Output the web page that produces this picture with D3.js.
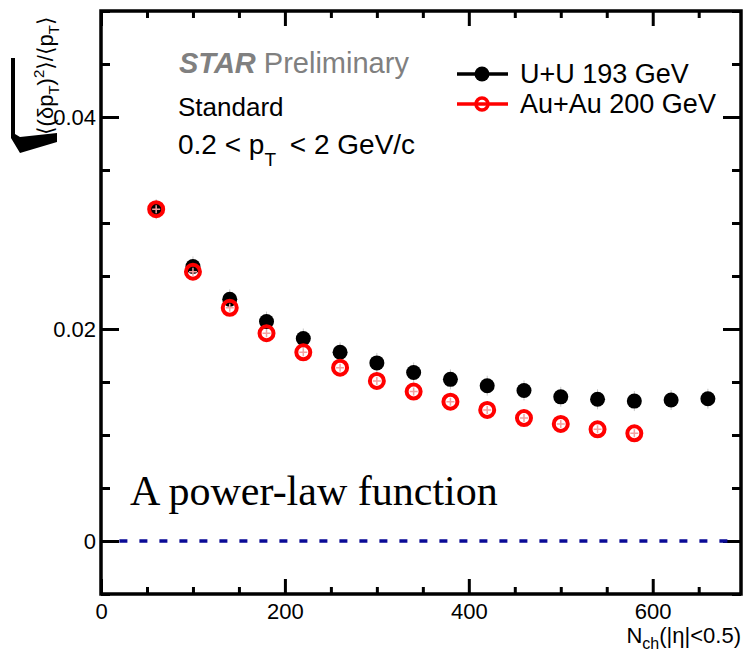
<!DOCTYPE html>
<html>
<head>
<meta charset="utf-8">
<script src="https://cdn.jsdelivr.net/npm/d3@7"></script>
<style>
  body { margin: 0; background: #fff; }
  text { font-family: "Liberation Sans", Arial, "DejaVu Sans", sans-serif; }
</style>
</head>
<body>
<div id="chart"></div>
<script>
var width = 745,
    height = 657;

// U+U 193 GeV
var uuNch = [60, 100, 140, 180, 220, 260, 300, 340, 380, 420, 460, 500, 540, 580, 620, 660];
var uuVal = [0.0313, 0.0259, 0.0228, 0.0207, 0.0191, 0.0178, 0.0168, 0.0159, 0.01525, 0.01465, 0.0142, 0.0136, 0.01337, 0.0132, 0.0133, 0.01342];
// Au+Au 200 GeV
var auNch = [60, 100, 140, 180, 220, 260, 300, 340, 380, 420, 460, 500, 540, 580];
var auVal = [0.0313, 0.0254, 0.0220, 0.0196, 0.0178, 0.01635, 0.0151, 0.0141, 0.01314, 0.01236, 0.0116, 0.01104, 0.01054, 0.01016];

var xMajor = [0, 200, 400, 600];
var yMajor = [0, 0.02, 0.04];
var legendLabels = ["U+U 193 GeV", "Au+Au 200 GeV"];

var margin = {left: 101, right: 4, top: 11, bottom: 63};

var x = d3.scaleLinear().domain([0, 696]).range([margin.left, width - margin.right]);
var y = d3.scaleLinear().domain([-0.005, 0.05]).range([height - margin.bottom, margin.top]);

var svg = d3.select("#chart").append("svg")
    .attr("width", width)
    .attr("height", height);

var xMinor = d3.range(0, 696, 50).filter(function(d) { return xMajor.indexOf(d) < 0; });
var yMinor = d3.range(-0.005, 0.0501, 0.005).filter(function(d) {
  return yMajor.every(function(m) { return Math.abs(m - d) > 1e-6; });
});

function axisGroup(axis, tx, ty) {
  var g = svg.append("g")
      .attr("transform", "translate(" + tx + "," + ty + ")")
      .call(axis);
  g.select(".domain").remove();
  g.selectAll("line").attr("stroke", "#000").attr("stroke-width", 3);
  return g;
}

var yBot = y.range()[0], yTop = y.range()[1];
var xLeft = x.range()[0], xRight = x.range()[1];

// x axes (bottom with labels, top without)
axisGroup(d3.axisBottom(x).tickValues(xMajor).tickSize(-15).tickPadding(9).tickFormat(d3.format("d")), 0, yBot)
  .selectAll("text").attr("font-size", 22).attr("fill", "#000");
axisGroup(d3.axisBottom(x).tickValues(xMinor).tickSize(-7).tickFormat(""), 0, yBot);
axisGroup(d3.axisTop(x).tickValues(xMajor).tickSize(-15).tickFormat(""), 0, yTop);
axisGroup(d3.axisTop(x).tickValues(xMinor).tickSize(-7).tickFormat(""), 0, yTop);

// y axes
axisGroup(d3.axisLeft(y).tickValues(yMajor).tickSize(-18).tickPadding(5).tickFormat(function(d) { return d === 0 ? "0" : d3.format(".2f")(d); }), xLeft, 0)
  .selectAll("text").attr("font-size", 22).attr("fill", "#000");
axisGroup(d3.axisLeft(y).tickValues(yMinor).tickSize(-9).tickFormat(""), xLeft, 0);
axisGroup(d3.axisRight(y).tickValues(yMajor).tickSize(-18).tickFormat(""), xRight, 0);
axisGroup(d3.axisRight(y).tickValues(yMinor).tickSize(-9).tickFormat(""), xRight, 0);

// frame
svg.append("rect")
    .attr("x", xLeft)
    .attr("y", yTop)
    .attr("width", xRight - xLeft)
    .attr("height", yBot - yTop)
    .attr("fill", "none")
    .attr("stroke", "#000")
    .attr("stroke-width", 3.5);

// zero line (power-law fit reference)
svg.append("line")
    .attr("x1", x(20)).attr("x2", xRight - 2)
    .attr("y1", y(0)).attr("y2", y(0))
    .attr("stroke", "#0a0a96")
    .attr("stroke-width", 3.5)
    .attr("stroke-dasharray", "8,12");

// U+U points (faint error bar ticks under the markers)
var uu = svg.append("g");
uu.selectAll("path")
    .data(uuNch)
  .enter().append("path")
    .attr("d", function(d, i) {
      var cx = x(d), cy = y(uuVal[i]);
      return "M" + cx + "," + (cy - 10) + "V" + (cy + 10);
    })
    .attr("stroke", "#c8c8c8")
    .attr("stroke-width", 1);
uu.selectAll("circle")
    .data(uuNch)
  .enter().append("circle")
    .attr("cx", function(d) { return x(d); })
    .attr("cy", function(d, i) { return y(uuVal[i]); })
    .attr("r", 7.5)
    .attr("fill", "#000");

// Au+Au points: faint error crosses then open circles
var au = svg.append("g");
au.selectAll("path")
    .data(auNch)
  .enter().append("path")
    .attr("d", function(d, i) {
      var cx = x(d), cy = y(auVal[i]);
      return "M" + (cx - 4) + "," + cy + "H" + (cx + 4) + "M" + cx + "," + (cy - 4) + "V" + (cy + 4);
    })
    .attr("stroke", "#f5a0a0")
    .attr("stroke-width", 1.5);
au.selectAll("circle")
    .data(auNch)
  .enter().append("circle")
    .attr("cx", function(d) { return x(d); })
    .attr("cy", function(d, i) { return y(auVal[i]); })
    .attr("r", 7)
    .attr("fill", "none")
    .attr("stroke", "#ff0000")
    .attr("stroke-width", 4);

// legend
var legend = svg.append("g");
legendLabels.forEach(function(label, i) {
  var ly = 74 + i * 30;
  var col = i === 0 ? "#000" : "#ff0000";
  legend.append("line")
      .attr("x1", 457).attr("x2", 508)
      .attr("y1", ly).attr("y2", ly)
      .attr("stroke", col)
      .attr("stroke-width", 3.5);
  if (i === 0) {
    legend.append("circle").attr("cx", 482).attr("cy", ly).attr("r", 7.5).attr("fill", "#000");
  } else {
    legend.append("circle").attr("cx", 482).attr("cy", ly).attr("r", 6)
        .attr("fill", "none").attr("stroke", col).attr("stroke-width", 3.5);
  }
  legend.append("text")
      .attr("x", 520)
      .attr("y", ly + 9)
      .attr("font-size", 27)
      .text(label);
});

// annotations
var star = svg.append("text")
    .attr("x", 179)
    .attr("y", 73)
    .attr("font-size", 29)
    .attr("fill", "#808080");
star.append("tspan").attr("font-weight", "bold").attr("font-style", "italic").text("STAR");
star.append("tspan").text(" Preliminary");

svg.append("text")
    .attr("x", 178)
    .attr("y", 116)
    .attr("font-size", 26)
    .text("Standard");

var cut = svg.append("text")
    .attr("x", 178)
    .attr("y", 154)
    .attr("font-size", 28);
cut.append("tspan").text("0.2 < p");
cut.append("tspan").attr("font-size", 19).attr("dy", 12).text("T");
cut.append("tspan").attr("dy", -12).attr("dx", 6).text(" < 2 GeV/c");

svg.append("text")
    .attr("x", 130)
    .attr("y", 505)
    .attr("font-size", 42)
    .style("font-family", "'Liberation Serif', 'Times New Roman', serif")
    .text("A power-law function");

// x title
var xt = svg.append("text")
    .attr("x", xRight)
    .attr("y", 643)
    .attr("text-anchor", "end")
    .attr("font-size", 22);
xt.append("tspan").text("N");
xt.append("tspan").attr("font-size", 16).attr("dy", 6).text("ch");
xt.append("tspan").attr("dy", -6).text("(|\u03b7|<0.5)");

// y title with radical sign
var yt = svg.append("g")
    .attr("transform", "translate(53,135)rotate(-90)");
var ytext = yt.append("text")
    .attr("x", 0)
    .attr("y", 0)
    .attr("font-size", 22);
ytext.append("tspan").text("\u27e8(\u03b4p");
ytext.append("tspan").attr("font-size", 15).attr("dy", 6).text("T");
ytext.append("tspan").attr("dy", -6).text(")");
ytext.append("tspan").attr("font-size", 15).attr("dy", -9).text("2");
ytext.append("tspan").attr("dy", 9).text("\u27e9/\u27e8p");
ytext.append("tspan").attr("font-size", 15).attr("dy", 6).text("T");
ytext.append("tspan").attr("dy", -6).text("\u27e9");

svg.append("path")
    .attr("d", "M11,58 H15 V134 L20,137 L57,133 L57,142 L20,153 L11,138 Z")
    .attr("fill", "#000");
</script>
</body>
</html>
